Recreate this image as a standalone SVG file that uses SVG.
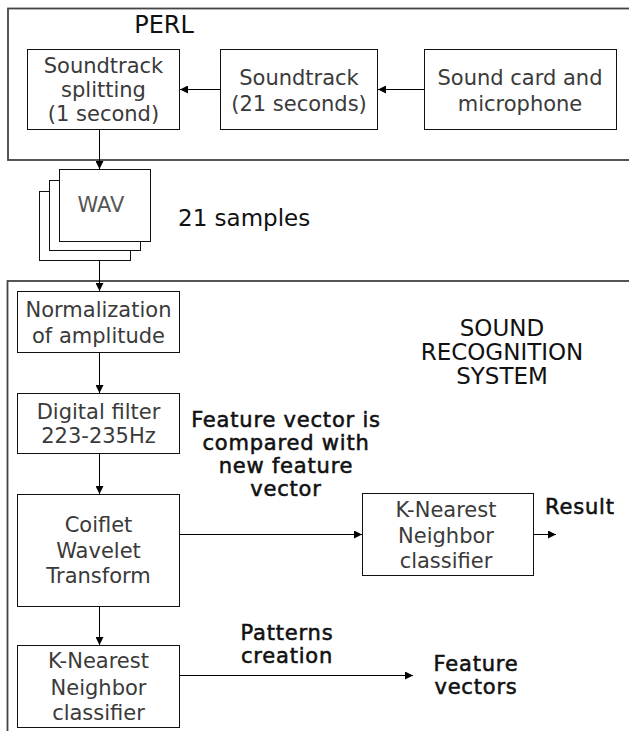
<svg xmlns="http://www.w3.org/2000/svg" width="629" height="731" viewBox="0 0 629 731">
<style>
  .frame{fill:none;stroke:#444;stroke-width:1.8}
  .box{fill:#fff;stroke:#111;stroke-width:1}
  .bt{font-family:"DejaVu Sans",Verdana,sans-serif;font-size:21px;fill:#3a3a3a;text-anchor:middle}
  .tt{font-family:"DejaVu Sans",Verdana,sans-serif;font-size:23px;fill:#111;text-anchor:middle}
  .lb{font-family:"DejaVu Sans",Verdana,sans-serif;font-size:21px;letter-spacing:0.8px;fill:#111;stroke:#111;stroke-width:0.55;text-anchor:middle}
  .cn{fill:none;stroke:#000;stroke-width:1}
</style>
<defs>
  <marker id="ah" viewBox="0 0 10 10" refX="10" refY="5" markerWidth="8" markerHeight="8" markerUnits="userSpaceOnUse" orient="auto">
    <path d="M0,0 L10,5 L0,10 z" fill="#000"/>
  </marker>
</defs>
<rect width="629" height="731" fill="#fff"/>

<g id="perl-frame">
  <rect class="frame" x="8" y="8.5" width="640" height="151.5"/>
  <text class="tt" x="164" y="33" style="font-size:24px">PERL</text>
</g>
<g id="recognition-frame">
  <rect class="frame" x="7.5" y="281" width="640" height="470"/>
  <text class="tt" x="502" y="336">SOUND</text>
  <text class="tt" x="502" y="360">RECOGNITION</text>
  <text class="tt" x="502" y="384">SYSTEM</text>
</g>

<g id="splitting">
  <rect class="box" x="27.5" y="49.5" width="152" height="80"/>
  <text class="bt" x="103.5" y="73">Soundtrack</text>
  <text class="bt" x="103.5" y="97">splitting</text>
  <text class="bt" x="103.5" y="121">(1 second)</text>
</g>
<g id="soundtrack">
  <rect class="box" x="220.5" y="49.5" width="157" height="80"/>
  <text class="bt" x="299" y="85">Soundtrack</text>
  <text class="bt" x="299" y="111">(21 seconds)</text>
</g>
<g id="soundcard">
  <rect class="box" x="424.5" y="49.5" width="192" height="80"/>
  <text class="bt" x="520" y="85">Sound card and</text>
  <text class="bt" x="520" y="111">microphone</text>
</g>

<g id="wav">
  <rect class="box" x="39.5" y="191.5" width="91" height="69"/>
  <rect class="box" x="49.5" y="180.5" width="91" height="70"/>
  <rect class="box" x="59.5" y="169.5" width="91" height="72"/>
  <text class="bt" x="101" y="212" style="fill:#555">WAV</text>
</g>
<g id="samples-label">
  <text class="tt" x="178" y="226" style="text-anchor:start">21 samples</text>
</g>

<g id="normalization">
  <rect class="box" x="17.5" y="291.5" width="162" height="61"/>
  <text class="bt" x="98.5" y="317">Normalization</text>
  <text class="bt" x="98.5" y="343">of amplitude</text>
</g>
<g id="filter">
  <rect class="box" x="17.5" y="393.5" width="162" height="60"/>
  <text class="bt" x="98.5" y="419">Digital filter</text>
  <text class="bt" x="98.5" y="443">223-235Hz</text>
</g>
<g id="coiflet">
  <rect class="box" x="17.5" y="494.5" width="162" height="112"/>
  <text class="bt" x="98.5" y="532">Coiflet</text>
  <text class="bt" x="98.5" y="558">Wavelet</text>
  <text class="bt" x="98.5" y="583">Transform</text>
</g>
<g id="knn-train">
  <rect class="box" x="17.5" y="645.5" width="162" height="82"/>
  <text class="bt" x="98.5" y="668">K-Nearest</text>
  <text class="bt" x="98.5" y="695">Neighbor</text>
  <text class="bt" x="98.5" y="720">classifier</text>
</g>
<g id="knn-test">
  <rect class="box" x="362.5" y="493.5" width="171" height="82"/>
  <text class="bt" x="446" y="517">K-Nearest</text>
  <text class="bt" x="446" y="543">Neighbor</text>
  <text class="bt" x="446" y="568">classifier</text>
</g>

<g id="compare-label">
  <text class="lb" x="286" y="427">Feature vector is</text>
  <text class="lb" x="286" y="450">compared with</text>
  <text class="lb" x="286" y="473">new feature</text>
  <text class="lb" x="286" y="496">vector</text>
</g>
<g id="result-label">
  <text class="lb" x="545" y="514" style="text-anchor:start">Result</text>
</g>
<g id="patterns-label">
  <text class="lb" x="287" y="640">Patterns</text>
  <text class="lb" x="287" y="663">creation</text>
</g>
<g id="vectors-label">
  <text class="lb" x="476" y="671">Feature</text>
  <text class="lb" x="476" y="694">vectors</text>
</g>

<g id="connectors">
  <path class="cn" d="M424,89.5 H378" marker-end="url(#ah)"/>
  <path class="cn" d="M220,89.5 H180" marker-end="url(#ah)"/>
  <path class="cn" d="M99.5,130 V169" marker-end="url(#ah)"/>
  <path class="cn" d="M99.5,261 V291" marker-end="url(#ah)"/>
  <path class="cn" d="M99.5,353 V393" marker-end="url(#ah)"/>
  <path class="cn" d="M99.5,454 V494" marker-end="url(#ah)"/>
  <path class="cn" d="M180,534.5 H362" marker-end="url(#ah)"/>
  <path class="cn" d="M534,534.5 H556" marker-end="url(#ah)"/>
  <path class="cn" d="M99.5,607 V645" marker-end="url(#ah)"/>
  <path class="cn" d="M180,675.5 H413" marker-end="url(#ah)"/>
</g>
</svg>
